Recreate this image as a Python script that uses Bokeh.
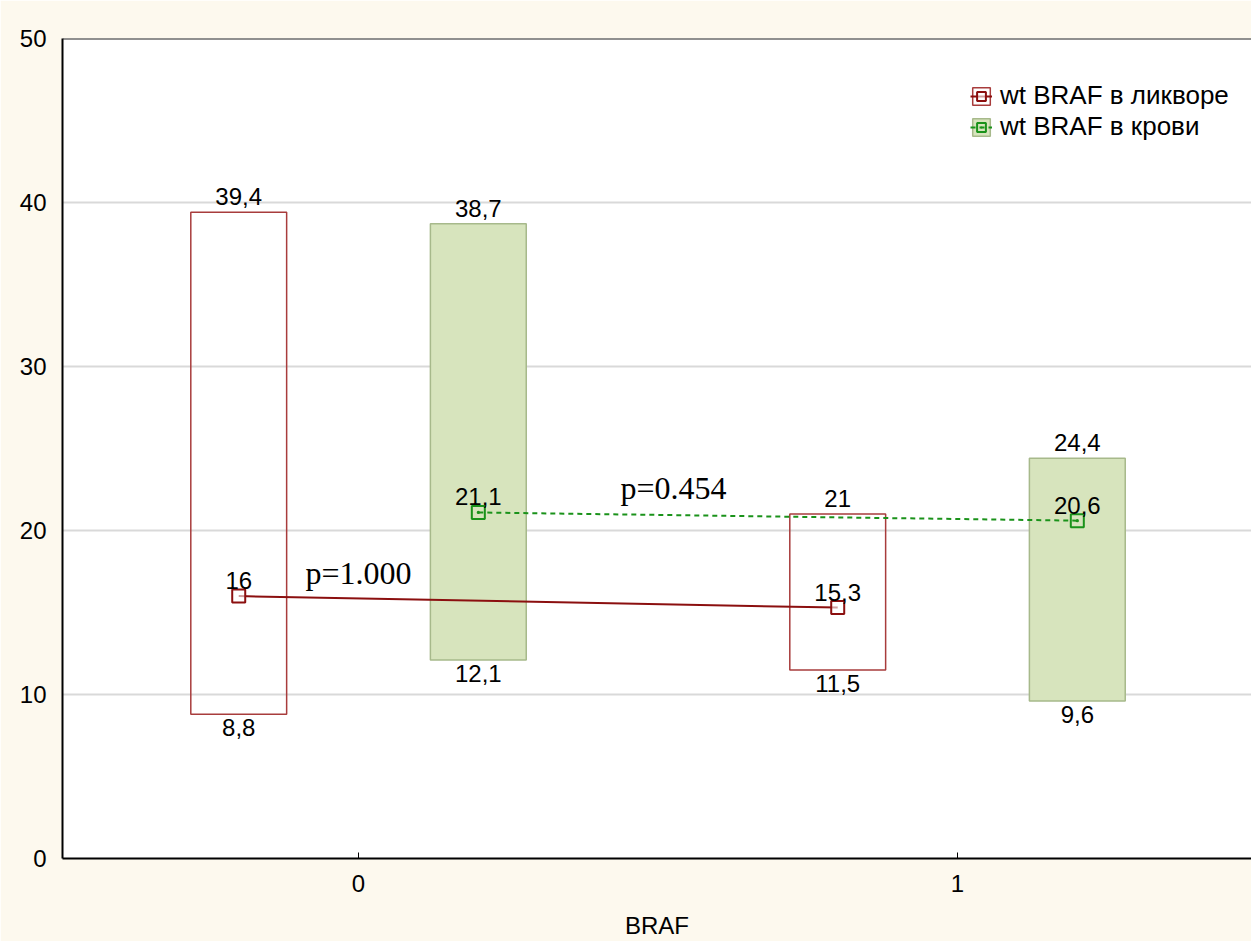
from bokeh.plotting import figure
from bokeh.models import ColumnDataSource, Legend, LegendItem, FixedTicker, Span, Range1d
from bokeh.core.properties import value
from bokeh.embed import file_html
from bokeh.resources import INLINE

# ---- data ----
groups = [0, 1]
x_labels = ["0", "1"]
series_names = ["wt BRAF в ликворе", "wt BRAF в крови"]
liq_low = [8.8, 11.5]
liq_high = [39.4, 21.0]
liq_med = [16.0, 15.3]
blood_low = [12.1, 9.6]
blood_high = [38.7, 24.4]
blood_med = [21.1, 20.6]
p_texts = ["p=1.000", "p=0.454"]
p_x = [0.0, 0.526]
p_y = [17.4, 22.6]

OFF = 0.2
HW = 0.08
CREAM = "#fdf9ee"
FONT = "Liberation Sans"


def fmt(v):
    return ("%g" % v).replace(".", ",")


p = figure(width=1251, height=941, output_backend="svg", toolbar_location=None,
           x_range=Range1d(-0.4942, 1.4908), y_range=Range1d(0, 50),
           background_fill_color="white", border_fill_color=CREAM,
           min_border_left=62, min_border_top=38, min_border_right=0, min_border_bottom=83)
p.outline_line_color = None

# grid
p.xgrid.grid_line_color = None
p.ygrid.grid_line_color = "#d9d9d9"
p.ygrid.grid_line_width = 2
p.ygrid.ticker = FixedTicker(ticks=[10, 20, 30, 40])

# axes
p.yaxis.ticker = FixedTicker(ticks=[0, 10, 20, 30, 40, 50])
p.yaxis.axis_line_color = "black"
p.yaxis.axis_line_width = 2
p.yaxis.major_tick_out = 0
p.yaxis.major_tick_in = 0
p.yaxis.minor_tick_out = 0
p.yaxis.minor_tick_in = 0
p.yaxis.major_label_standoff = 16
p.yaxis.major_label_text_font = FONT
p.yaxis.major_label_text_font_size = "24px"
p.yaxis.major_label_text_color = "black"

p.xaxis.ticker = FixedTicker(ticks=groups)
p.xaxis.major_label_overrides = {g: l for g, l in zip(groups, x_labels)}
p.xaxis.axis_line_color = "black"
p.xaxis.axis_line_width = 2
p.xaxis.major_tick_in = 6
p.xaxis.major_tick_out = 0
p.xaxis.major_tick_line_color = "black"
p.xaxis.minor_tick_out = 0
p.xaxis.minor_tick_in = 0
p.xaxis.major_label_standoff = 16
p.xaxis.major_label_text_font = FONT
p.xaxis.major_label_text_font_size = "24px"
p.xaxis.major_label_text_color = "black"
p.xaxis.axis_label = "BRAF"
p.xaxis.axis_label_text_font = FONT
p.xaxis.axis_label_text_font_size = "24px"
p.xaxis.axis_label_text_font_style = "normal"
p.xaxis.axis_label_standoff = 17
p.xaxis.axis_label_text_color = "black"

# top border
p.add_layout(Span(location=50, dimension="width", line_color="#222222", line_width=2))

liq_x = [g - OFF for g in groups]
blood_x = [g + OFF for g in groups]

liq_src = ColumnDataSource(dict(x=liq_x, left=[x - HW for x in liq_x], right=[x + HW for x in liq_x],
                                low=liq_low, high=liq_high, med=liq_med,
                                lt=[fmt(v) for v in liq_low], ht=[fmt(v) for v in liq_high],
                                mt=[fmt(v) for v in liq_med]))
blood_src = ColumnDataSource(dict(x=blood_x, left=[x - HW for x in blood_x], right=[x + HW for x in blood_x],
                                  low=blood_low, high=blood_high, med=blood_med,
                                  lt=[fmt(v) for v in blood_low], ht=[fmt(v) for v in blood_high],
                                  mt=[fmt(v) for v in blood_med]))

RED_BOX = "#a83c3c"
RED_LINE = "#8b0f0f"
GREEN_FILL = "#d7e4bd"
GREEN_EDGE = "#a7b98b"
GREEN_LINE = "#1a921a"

q1 = p.quad(left="left", right="right", bottom="low", top="high", source=liq_src,
            fill_color="white", fill_alpha=0.0, line_color=RED_BOX, line_width=1.5)
q2 = p.quad(left="left", right="right", bottom="low", top="high", source=blood_src,
            fill_color=GREEN_FILL, line_color=GREEN_EDGE, line_width=1.5)

l1 = p.line(x="x", y="med", source=liq_src, line_color=RED_LINE, line_width=2)
l2 = p.line(x="x", y="med", source=blood_src, line_color=GREEN_LINE, line_width=2, line_dash="5 4")

s1 = p.scatter(x="x", y="med", source=liq_src, marker="square", size=13,
               fill_color="white", fill_alpha=0.6, line_color=RED_LINE, line_width=2)
s2 = p.scatter(x="x", y="med", source=blood_src, marker="square_dot", size=13,
               fill_alpha=0.0, line_color=GREEN_LINE, line_width=2)

for src in (liq_src, blood_src):
    p.text(x="x", y="high", text="ht", source=src, text_align="center", text_baseline="bottom",
           y_offset=-7, text_font=value(FONT), text_font_size="24px", text_color="black")
    p.text(x="x", y="low", text="lt", source=src, text_align="center", text_baseline="top",
           y_offset=5, text_font=value(FONT), text_font_size="24px", text_color="black")
    p.text(x="x", y="med", text="mt", source=src, text_align="center", text_baseline="bottom",
           y_offset=-7, text_font=value(FONT), text_font_size="24px", text_color="black")

p.text(x=p_x, y=p_y, text=p_texts, text_align="center", text_baseline="middle",
       text_font=value("Liberation Serif"), text_font_size="32px", text_color="black")

legend = Legend(items=[LegendItem(label=series_names[0], renderers=[q1, l1, s1]),
                       LegendItem(label=series_names[1], renderers=[q2, l2, s2])],
                location=(908, 716), border_line_color=None, background_fill_alpha=0.0,
                label_text_font=FONT, label_text_font_size="26px", label_text_color="black",
                glyph_width=22, glyph_height=22, label_height=26, label_standoff=8,
                padding=0, spacing=0, margin=0)
p.add_layout(legend)

open("out.html", "w").write(file_html(p, INLINE))
